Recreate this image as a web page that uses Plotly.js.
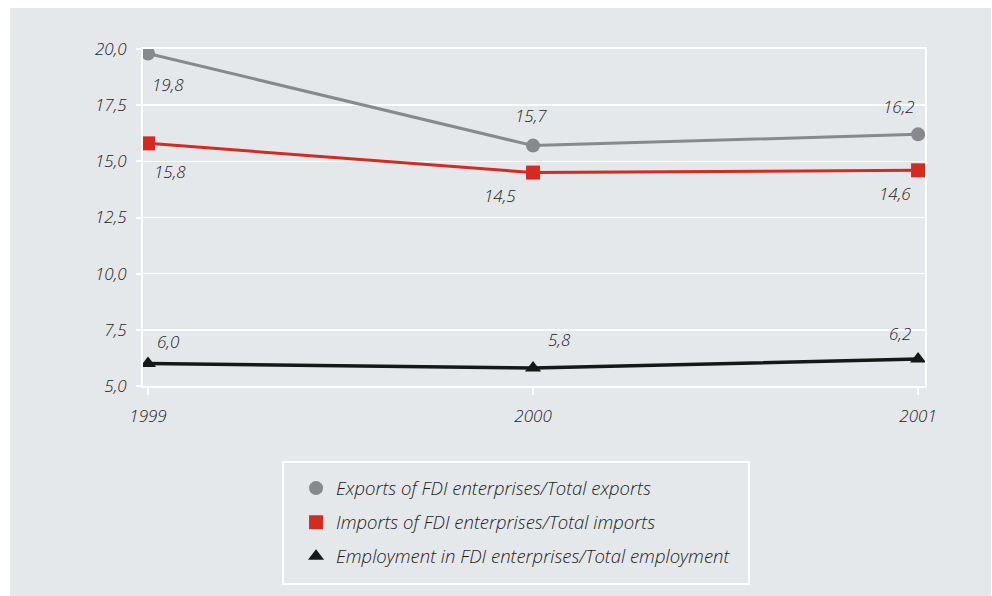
<!DOCTYPE html>
<html>
<head>
<meta charset="utf-8">
<script src="https://cdn.plot.ly/plotly-3.0.1.min.js"></script>
<style>
  html, body { margin: 0; padding: 0; background: #ffffff; width: 992px; height: 596px; overflow: hidden; }
  #chart { position: absolute; left: 10px; top: 8px; width: 981px; height: 588px; }
</style>
</head>
<body>
<div id="chart"></div>
<script>
// ---- data ----
const years = [1999, 2000, 2001];
const yearLabels = ["1999", "2000", "2001"];
const exportsShare = [19.8, 15.7, 16.2];
const importsShare = [15.8, 14.5, 14.6];
const employmentShare = [6.0, 5.8, 6.2];
const seriesNames = [
  "Exports of FDI enterprises/Total exports",
  "Imports of FDI enterprises/Total imports",
  "Employment in FDI enterprises/Total employment"
];
const yTicks = [5, 7.5, 10, 12.5, 15, 17.5, 20];

// ---- styling ----
const colors = ["#87898c", "#d42a20", "#161818"];
const symbols = ["circle", "square", "triangle-up"];
const sizes = [14, 14, 14];
const widths = [3, 3, 3.5];
// label offsets in px (dx, dy) per point
const offsets = [
  [[20, -31], [-2, 30], [-19, 28]],
  [[22, -28], [-33, -23], [-23, -23]],
  [[20, 22], [26, 29], [-18, 26]]
];
const allValues = [exportsShare, importsShare, employmentShare];
const textFont = { family: "Open Sans, Noto Sans, sans-serif", size: 17, color: "#1c1c1c", style: "italic", weight: 300 };
const legendFont = Object.assign({}, textFont, { size: 18.5 });

const fmt = v => v.toFixed(1).replace(".", ",");

const traces = [];
allValues.forEach((vals, i) => {
  traces.push({
    x: years, y: vals, type: "scatter", mode: "lines",
    line: { color: colors[i], width: widths[i] },
    showlegend: false, hoverinfo: "skip"
  });
});
allValues.forEach((vals, i) => {
  traces.push({
    x: years, y: vals, type: "scatter", mode: "markers",
    name: seriesNames[i], legendgroup: "g" + i,
    marker: { color: colors[i], symbol: symbols[i], size: sizes[i] }
  });
});

const annotations = [];
allValues.forEach((vals, i) => {
  vals.forEach((v, j) => {
    annotations.push({
      x: years[j], y: v, xref: "x", yref: "y",
      text: fmt(v), showarrow: false,
      xshift: offsets[i][j][0], yshift: offsets[i][j][1],
      font: textFont
    });
  });
});

const layout = {
  width: 981, height: 588,
  paper_bgcolor: "#e5e8eb", plot_bgcolor: "#e5e8eb",
  margin: { l: 133, r: 66, t: 41, b: 210 },
  separators: ",.",
  font: textFont,
  xaxis: {
    range: [1998.987, 2001.018],
    tickvals: years, ticktext: yearLabels,
    showgrid: false, zeroline: false,
    showline: true, linecolor: "#ffffff", linewidth: 2, mirror: true,
    ticks: "outside", ticklen: 7, tickwidth: 2, tickcolor: "#ffffff",
    ticklabelstandoff: 7,
    tickfont: textFont
  },
  yaxis: {
    range: [5, 20],
    tickvals: yTicks, tickformat: ".1f",
    showgrid: true, gridcolor: "#ffffff", gridwidth: 1.5,
    zeroline: false,
    showline: true, linecolor: "#ffffff", linewidth: 2, mirror: true,
    ticks: "outside", ticklen: 5, tickwidth: 2, tickcolor: "#ffffff",
    ticklabelstandoff: 6,
    tickfont: textFont
  },
  legend: {
    x: 0.1957, y: -0.248, xanchor: "left", yanchor: "top",
    bgcolor: "rgba(0,0,0,0)", borderwidth: 0,
    tracegroupgap: 7,
    font: legendFont
  },
  shapes: [{
    type: "rect", xref: "paper", yref: "paper",
    x0: 0.179, x1: 0.775, y0: -0.5875, y1: -0.2255,
    line: { color: "#ffffff", width: 2 }, fillcolor: "rgba(0,0,0,0)"
  }],
  annotations: annotations,
  showlegend: true
};

Plotly.newPlot("chart", traces, layout, { displayModeBar: false, staticPlot: true });
</script>
</body>
</html>
